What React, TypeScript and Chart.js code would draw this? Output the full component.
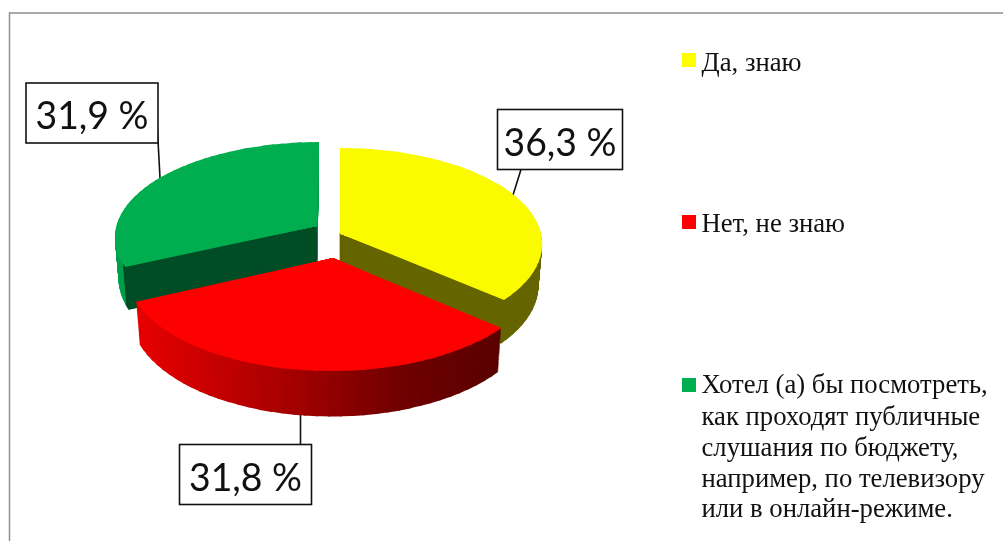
import React, { useEffect, useRef } from "react";
import { Chart, ArcElement, registerables } from "chart.js";

Chart.register(...registerables);

// ---- data ----
const legendLines: string[][] = [
  ["Да, знаю"],
  ["Нет, не знаю"],
  ["Хотел (а) бы посмотреть,", "как проходят публичные", "слушания по бюджету,", "например, по телевизору", "или в онлайн-режиме."],
];
const categories = legendLines.map((l) => l.join(" "));
const shareValues = [36.3, 31.8, 31.9];
const surfaceColors = ["#fbfb00", "#fd0000", "#00ae50"];
const legendColors = ["#ffff00", "#ff0000", "#00b050"];

// ---- look: perspective of each exploded slice ----
type Look = { cx: number; cy: number; rx: number; ry: number; k: number; skew: number };
const looks: Look[] = [
  { cx: 340, cy: 233.5, rx: 201, ry: 94.8, k: 0.1085, skew: 0 },
  { cx: 333, cy: 258, rx: 204.5, ry: 98.2, k: 0.131, skew: -1.5 },
  { cx: 317, cy: 226, rx: 200.6, ry: 93.2, k: 0.11, skew: -2.2 },
];
const wallDrop = 41;
const wallScaleX = 0.982;
const wallScaleY = 1.04;
const drawOrder = [2, 0, 1];
const redWallStops: [number, number][] = [[135, 232], [300, 160], [400, 112], [500, 90]];

const labelBoxes = [
  { x: 497.5, y: 109.5, w: 125, h: 60, line: [521, 169.5, 513, 195] },
  { x: 179.5, y: 444.5, w: 132, h: 60, line: [300.5, 415, 300.5, 444.5] },
  { x: 26, y: 83, w: 132, h: 60, line: [157.5, 131, 160, 178] },
];
const legendRows = [
  { boxY: 53, baselines: [71] },
  { boxY: 215, baselines: [232] },
  { boxY: 378, baselines: [393, 424.5, 456, 487, 517] },
];

function wallColor(i: number, x: number): string {
  if (i === 0) return "#666600";
  if (i === 2) return "#00a04c";
  const s = redWallStops;
  let v = s[s.length - 1][1];
  if (x <= s[0][0]) v = s[0][1];
  else
    for (let j = 0; j < s.length - 1; j++) {
      if (x >= s[j][0] && x <= s[j + 1][0]) {
        v = s[j][1] + ((s[j + 1][1] - s[j][1]) * (x - s[j][0])) / (s[j + 1][0] - s[j][0]);
        break;
      }
    }
  return `rgb(${Math.round(v)},0,0)`;
}

type Pt = [number, number];

function project(l: Look, phi: number | null, layer: number): Pt {
  const X = phi === null ? 0 : Math.cos(phi);
  const Y = phi === null ? 0 : Math.sin(phi);
  const w = 1 - l.k * Y;
  const bx = (l.rx * X + l.skew * Y) / w;
  const by = (l.ry * Y) / w;
  return [
    l.cx + bx * (1 - (1 - wallScaleX) * layer),
    l.cy + layer * wallDrop + by * (1 + (wallScaleY - 1) * layer),
  ];
}

function outward(from: Pt, to: Pt, other: Pt, px: number): Pt {
  const dx = to[0] - from[0];
  const dy = to[1] - from[1];
  const len = Math.hypot(dx, dy) || 1;
  let nx = -dy / len;
  let ny = dx / len;
  if (nx * (other[0] - from[0]) + ny * (other[1] - from[1]) > 0) {
    nx = -nx;
    ny = -ny;
  }
  return [nx * px, ny * px];
}

function stamp(
  ctx: CanvasRenderingContext2D,
  arc: any,
  l: Look,
  layer: number,
  a0: number,
  a1: number,
  clipA0: number,
  clipA1: number,
  color: string,
  endPad = 1.2
) {
  const R = arc.outerRadius;
  const u: Pt = [R * Math.cos(a0), R * Math.sin(a0)];
  const v: Pt = [R * Math.cos(a1), R * Math.sin(a1)];
  const D0 = project(l, null, layer);
  const D1 = project(l, a0, layer);
  const D2 = project(l, a1, layer);
  const p: Pt = [D1[0] - D0[0], D1[1] - D0[1]];
  const q: Pt = [D2[0] - D0[0], D2[1] - D0[1]];
  const det = u[0] * v[1] - v[0] * u[1];
  const a = (p[0] * v[1] - q[0] * u[1]) / det;
  const b = (q[0] * u[0] - p[0] * v[0]) / det;
  const c = (p[1] * v[1] - q[1] * u[1]) / det;
  const d = (q[1] * u[0] - p[1] * v[0]) / det;
  const e = D0[0] - a * arc.x - b * arc.y;
  const f = D0[1] - c * arc.x - d * arc.y;

  const C1 = project(l, clipA0, layer);
  const C2 = project(l, clipA1, layer);
  const grow = 1.2;
  const G1: Pt = [D0[0] + (C1[0] - D0[0]) * grow, D0[1] + (C1[1] - D0[1]) * grow];
  const G2: Pt = [D0[0] + (C2[0] - D0[0]) * grow, D0[1] + (C2[1] - D0[1]) * grow];
  const n1 = outward(D0, G1, G2, 1.2);
  const n2 = outward(D0, G2, G1, endPad);
  ctx.save();
  ctx.beginPath();
  ctx.moveTo(D0[0] + n1[0], D0[1] + n1[1]);
  ctx.lineTo(G1[0] + n1[0], G1[1] + n1[1]);
  ctx.lineTo(G2[0] + n2[0], G2[1] + n2[1]);
  ctx.lineTo(D0[0] + n2[0], D0[1] + n2[1]);
  ctx.closePath();
  ctx.clip();
  ctx.transform(a, c, b, d, e, f);
  const clone = Object.create(arc);
  clone.options = { ...arc.options, backgroundColor: color, borderWidth: 0 };
  ArcElement.prototype.draw.call(clone, ctx);
  ctx.restore();
}

function drawLayer(ctx: CanvasRenderingContext2D, arc: any, l: Look, layer: number, color: (x: number) => string) {
  const start = arc.startAngle;
  const end = arc.endAngle;
  const n = Math.ceil((end - start) / ((3 * Math.PI) / 180));
  const step = (end - start) / n;
  for (let s = 0; s < n; s++) {
    const a0 = start + s * step;
    const a1 = a0 + step;
    const mid = project(l, (a0 + a1) / 2, layer);
    stamp(ctx, arc, l, layer, a0, a1, a0, a1, color(mid[0]));
  }
}

const pie3d = {
  id: "pie3d",
  beforeDatasetsDraw(chart: any) {
    const ctx: CanvasRenderingContext2D = chart.ctx;
    const arcs = chart.getDatasetMeta(0).data;

    // frame
    ctx.save();
    ctx.fillStyle = "#ffffff";
    ctx.fillRect(0, 0, chart.width, chart.height);
    ctx.strokeStyle = "#8f8f8f";
    ctx.lineWidth = 1.5;
    ctx.beginPath();
    ctx.moveTo(9.5, 541);
    ctx.lineTo(9.5, 13);
    ctx.lineTo(1003, 13);
    ctx.stroke();
    ctx.restore();

    // connectors go beneath the slices
    ctx.save();
    ctx.strokeStyle = "#111111";
    ctx.lineWidth = 1.6;
    labelBoxes.forEach((b) => {
      ctx.beginPath();
      ctx.moveTo(b.line[0], b.line[1]);
      ctx.lineTo(b.line[2], b.line[3]);
      ctx.stroke();
    });
    ctx.restore();

    // slices, back to front
    drawOrder.forEach((i) => {
      const arc = arcs[i];
      const l = looks[i];
      for (let d = wallDrop; d >= 1; d--) {
        drawLayer(ctx, arc, l, d / wallDrop, (x) => wallColor(i, x));
      }
      if (i === 2) {
        const n = Math.ceil((arc.endAngle - arc.startAngle) / ((3 * Math.PI) / 180));
        const step = (arc.endAngle - arc.startAngle) / n;
        for (let d = wallDrop; d >= 1; d--) {
          stamp(ctx, arc, l, d / wallDrop, arc.startAngle, arc.startAngle + step, arc.startAngle, arc.startAngle + 0.006, "#004d26", 4);
        }
      }
      drawLayer(ctx, arc, l, 0, () => surfaceColors[i]);
    });

    // value boxes
    labelBoxes.forEach((b, i) => {
      ctx.save();
      ctx.fillStyle = "#ffffff";
      ctx.strokeStyle = "#111111";
      ctx.lineWidth = 1.6;
      ctx.fillRect(b.x, b.y, b.w, b.h);
      ctx.strokeRect(b.x, b.y, b.w, b.h);
      ctx.fillStyle = "#111111";
      ctx.font = "39px Lato";
      ctx.textAlign = "center";
      ctx.textBaseline = "alphabetic";
      const text = chart.data.datasets[0].data[i].toFixed(1).replace(".", ",") + " %";
      ctx.fillText(text, b.x + b.w / 2, b.y + 46, 113);
      ctx.restore();
    });

    // legend
    legendRows.forEach((row, i) => {
      ctx.save();
      ctx.fillStyle = legendColors[i];
      ctx.fillRect(682, row.boxY, 14, 14);
      ctx.fillStyle = "#111111";
      ctx.font = '26.7px "Liberation Serif"';
      ctx.textAlign = "left";
      ctx.textBaseline = "alphabetic";
      row.baselines.forEach((y, j) => ctx.fillText(legendLines[i][j], 701.5, y));
      ctx.restore();
    });
    return false;
  },
};

export default function App() {
  const ref = useRef<HTMLCanvasElement>(null);
  useEffect(() => {
    const chart = new Chart(ref.current as HTMLCanvasElement, {
      type: "pie",
      data: {
        labels: categories,
        datasets: [{ data: shareValues, backgroundColor: surfaceColors, borderWidth: 0 }],
      },
      options: {
        animation: false,
        responsive: false,
        layout: { padding: 0 },
        plugins: { legend: { display: false }, tooltip: { enabled: false } },
      },
      plugins: [pie3d],
    } as any);
    return () => chart.destroy();
  }, []);
  return (
    <div style={{ position: "absolute", left: 0, top: 0, width: 1003, height: 541, overflow: "hidden", background: "#fff" }}>
      <canvas ref={ref} width={1003} height={541} style={{ display: "block" }} />
    </div>
  );
}
